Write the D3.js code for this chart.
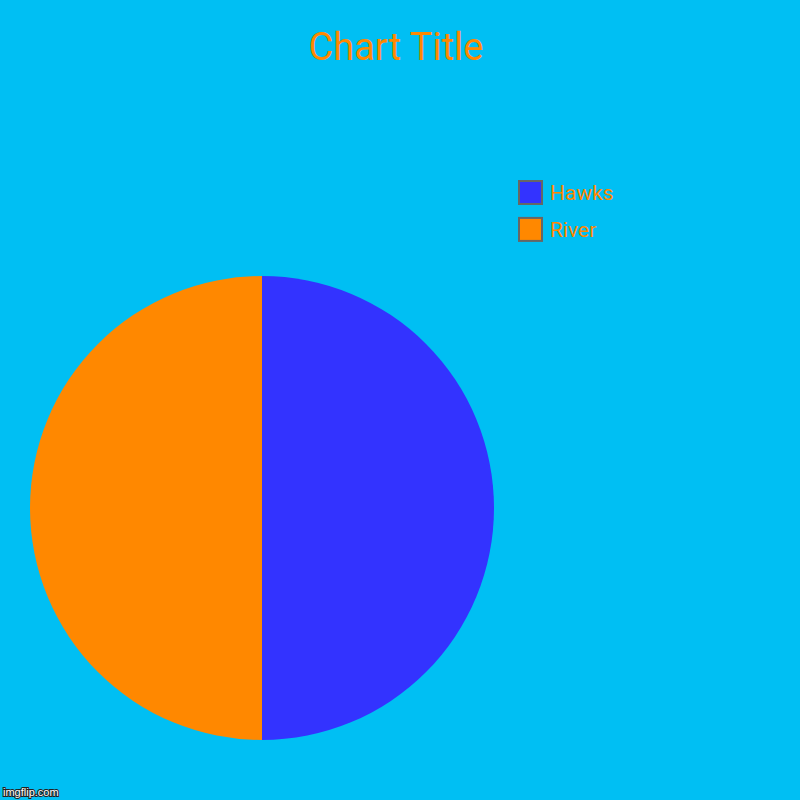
<!DOCTYPE html>
<html>
<head>
<meta charset="utf-8">
<script src="https://cdn.jsdelivr.net/npm/d3@7"></script>
<style>
  html, body { margin: 0; padding: 0; background: #00BFF3; }
  svg { display: block; }
</style>
</head>
<body>
<script>
const categories = ["Hawks", "River"];
const values = [50, 50];
const colors = ["#3333FF", "#FF8800"];
const title = "Chart Title";

const W = 800, H = 800;
const svg = d3.select("body").append("svg").attr("width", W).attr("height", H);
svg.append("rect").attr("width", W).attr("height", H).attr("fill", "#00BFF3");

svg.append("text")
  .attr("x", 396).attr("y", 60)
  .attr("text-anchor", "middle")
  .attr("font-family", "Roboto")
  .attr("font-size", 38)
  .attr("fill", "#FF8800")
  .text(title);

const data = categories.map((c, i) => ({ cat: c, value: values[i], color: colors[i] }));
const pie = d3.pie().value(d => d.value).sort(null);
const arc = d3.arc().innerRadius(0).outerRadius(232);
const g = svg.append("g").attr("transform", "translate(262,508)");
g.selectAll("path").data(pie(data)).join("path")
  .attr("d", arc)
  .attr("fill", d => d.data.color);

const y = d3.scaleBand().domain(categories).range([180, 242]).paddingInner(0.32);
const leg = svg.append("g");
leg.selectAll("rect").data(data).join("rect")
  .attr("x", 519).attr("y", d => y(d.cat) + 1)
  .attr("width", 23).attr("height", 23)
  .attr("fill", d => d.color)
  .attr("stroke", "#666666").attr("stroke-width", 2);
leg.selectAll("text").data(data).join("text")
  .attr("x", 550).attr("y", d => y(d.cat) + 20)
  .attr("font-family", "Roboto")
  .attr("font-size", 21)
  .attr("fill", "#FF8800")
  .text(d => d.cat);

svg.append("text")
  .attr("x", 3).attr("y", 796)
  .attr("font-family", "Arial, Liberation Sans, sans-serif")
  .attr("font-size", 11)
  .attr("fill", "#ffffff")
  .attr("stroke", "#222")
  .attr("stroke-width", 2)
  .attr("paint-order", "stroke")
  .text("imgflip.com");
</script>
</body>
</html>
